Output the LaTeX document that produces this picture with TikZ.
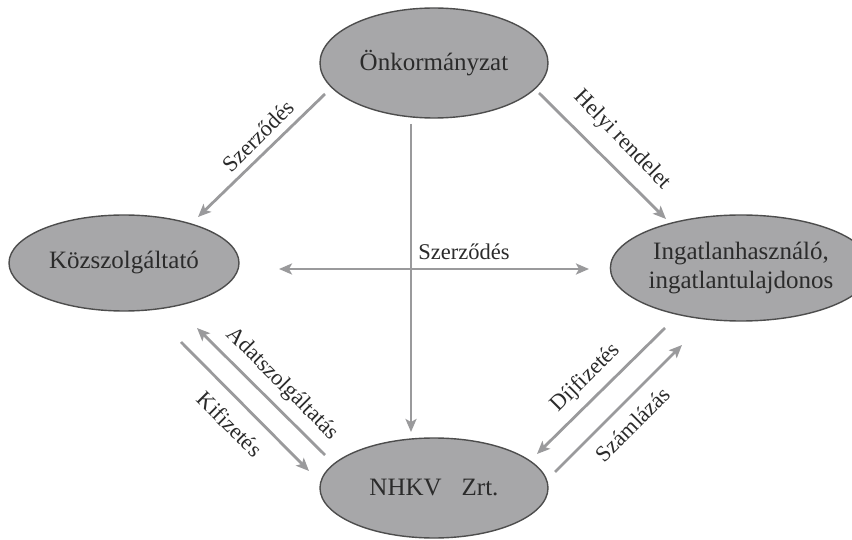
\documentclass[tikz,border=0pt]{standalone}
\usepackage{fontspec}
\setmainfont{Liberation Serif}
\usetikzlibrary{arrows.meta,shapes.geometric}
\definecolor{ellfill}{HTML}{A7A7A9}
\definecolor{elldraw}{HTML}{4D4D4D}
\definecolor{arrgray}{HTML}{9A9A9C}
\definecolor{txt}{HTML}{2B2B2B}
\tikzset{
  ell/.style={ellipse, draw=elldraw, fill=ellfill, line width=1.4pt, inner sep=0pt, text=txt,
    font=\fontsize{25}{29}\selectfont, align=center},
  conn/.style={draw=arrgray, line width=2.8pt, -{Stealth[length=13pt,width=11pt,inset=3pt]}},
  both/.style={draw=arrgray, line width=2.8pt, {Stealth[length=13pt,width=11pt,inset=3pt]}-{Stealth[length=13pt,width=11pt,inset=3pt]}},
  lab/.style={text=txt, font=\fontsize{22.5}{26}\selectfont, inner sep=0pt}
}
\begin{document}
\begin{tikzpicture}[x=1pt,y=-1pt]
\useasboundingbox (0,0) rectangle (852,540);
% nodes
\node[ell, minimum width=228pt, minimum height=110pt] (onk) at (434,63) {Önkormányzat};
\node[ell, minimum width=230pt, minimum height=96pt] (kozsz) at (124,263) {Közszolgáltató};
\node[ell, minimum width=218pt, minimum height=106pt] (ingat) at (741,268) {Ingatlanhasználó,\\ingatlantulajdonos};
\node[ell, minimum width=228pt, minimum height=100pt] (nhkv) at (434,488) {NHKV\hspace{0.8em}Zrt.};
% connector end points
\coordinate (a1) at (325,94);  \coordinate (a2) at (198,217);
\coordinate (b1) at (539,93);  \coordinate (b2) at (666,219);
\coordinate (c1) at (411,124); \coordinate (c2) at (411,432);
\coordinate (d1) at (279,269); \coordinate (d2) at (589,269);
\coordinate (e1) at (325,455); \coordinate (e2) at (197,328);
\coordinate (f1) at (181,342); \coordinate (f2) at (309,471);
\coordinate (g1) at (665,328); \coordinate (g2) at (537,454);
\coordinate (h1) at (555,472); \coordinate (h2) at (682,345);
% connectors
\draw[conn] (a1) -- (a2);
\draw[conn] (b1) -- (b2);
\draw[conn] (c1) -- (c2);
\draw[both] (d1) -- (d2);
\draw[conn] (e1) -- (e2);
\draw[conn] (f1) -- (f2);
\draw[conn] (g1) -- (g2);
\draw[conn] (h1) -- (h2);
% labels
\node[lab, rotate=45] (la) at (258,136) {Szerződés};
\node[lab, rotate=-46] (lb) at (622,140) {Helyi rendelet};
\node[lab] (ld) at (464,252) {Szerződés};
\node[lab, rotate=-45] (le) at (282,384) {Adatszolgáltatás};
\node[lab, rotate=-45] (lf) at (230,424) {Kifizetés};
\node[lab, rotate=45] (lg) at (586,378) {Díjfizetés};
\node[lab, rotate=45] (lh) at (633,424) {Számlázás};
\end{tikzpicture}
\end{document}
